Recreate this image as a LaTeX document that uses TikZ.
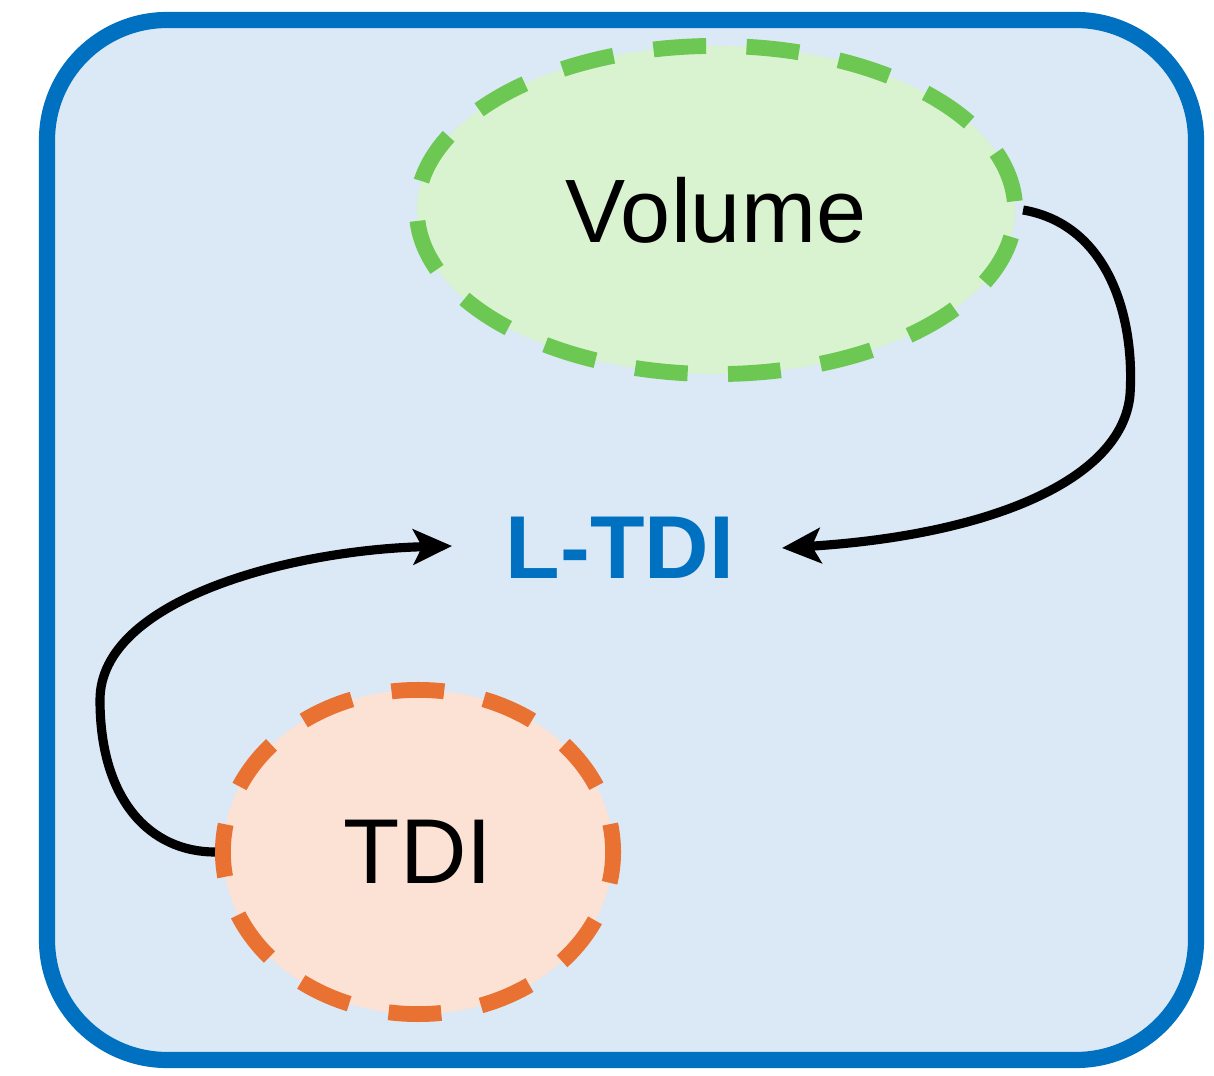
\documentclass[tikz,border=0pt]{standalone}
\usepackage{fontspec}
\setmainfont{Liberation Sans}
\usetikzlibrary{shapes.geometric,arrows.meta}
\definecolor{boxfill}{RGB}{219,232,245}
\definecolor{boxline}{RGB}{0,112,192}
\definecolor{greenfill}{RGB}{217,242,208}
\definecolor{greenline}{RGB}{108,200,82}
\definecolor{orangefill}{RGB}{251,226,213}
\definecolor{orangeline}{RGB}{233,113,50}
\tikzset{
  blob/.style={ellipse, line width=4.5pt, dash pattern=on 15pt off 11.5pt, inner sep=0pt},
  conn/.style={line width=2.6pt, -{Stealth[length=11pt,width=10pt,inset=2.5pt]}},
}
\begin{document}
\begin{tikzpicture}[x=0.01cm,y=-0.01cm]
\useasboundingbox (0,0) rectangle (1214,1076);
\draw[line width=4.6pt, draw=boxline, fill=boxfill, rounded corners=1.2cm] (47,20) rectangle (1196,1060);
\node[blob, dash phase=24pt, draw=greenline, fill=greenfill, minimum width=5.98cm, minimum height=3.28cm, font=\fontsize{25.6}{30}\selectfont] (vol) at (716,210) {Volume};
\node[blob, dash phase=7pt, draw=orangeline, fill=orangefill, minimum width=3.9cm, minimum height=3.24cm, font=\fontsize{26.2}{30}\selectfont] (tdi) at (418,852) {TDI};
\node[font=\fontsize{25.4}{30}\selectfont\bfseries, text=boxline, inner sep=0pt, minimum width=2.22cm, minimum height=0.7cm] (ltdi) at (620,548) {L-TDI};
\coordinate (ltdiW) at (452,546);
\coordinate (ltdiE) at (782,548);
\draw[conn] (vol.east) .. controls (1110,225) and (1135,320) .. (1130,395) .. controls (1122,480) and (990,535) .. (ltdiE);
\draw[conn] (tdi.west) .. controls (150,852) and (100,800) .. (100,700) .. controls (100,600) and (290,550) .. (ltdiW);
\end{tikzpicture}
\end{document}
